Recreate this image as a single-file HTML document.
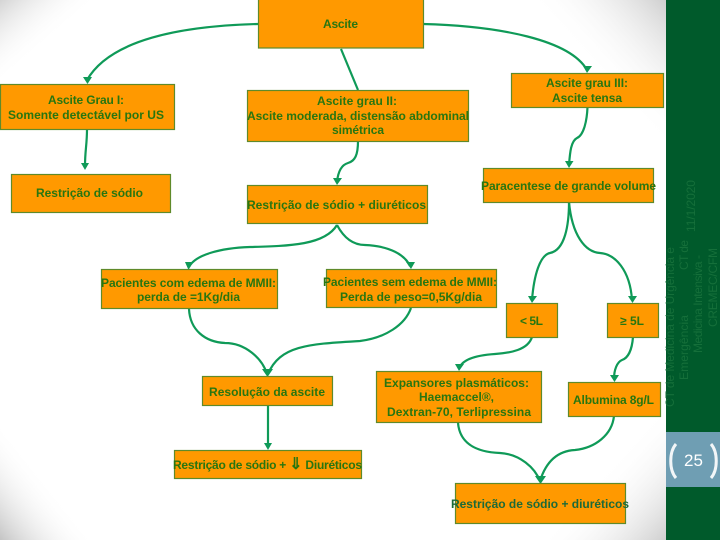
<!DOCTYPE html>
<html><head><meta charset="utf-8"><title>Ascite</title>
<style>
html,body{margin:0;padding:0;width:720px;height:540px;overflow:hidden;background:#fff}
svg{display:block}
.b{fill:#ff9900;stroke:#5f8a2a;stroke-width:1.2}
.c{fill:none;stroke:#0f9a58;stroke-width:2.2}
.h{fill:#0f9a58}
text{font-family:"Liberation Sans",sans-serif;font-size:12px;font-weight:bold;fill:#287610}
.s{font-weight:normal;fill:#156f3a}
</style></head><body>
<svg width="720" height="540" viewBox="0 0 720 540" xmlns="http://www.w3.org/2000/svg">
<defs>
<linearGradient id="tl" gradientUnits="userSpaceOnUse" x1="0" y1="0" x2="42" y2="49"><stop offset="0" stop-color="#d4d4d4"/><stop offset="1" stop-color="#fff" stop-opacity="0"/></linearGradient>
<linearGradient id="tr" gradientUnits="userSpaceOnUse" x1="666" y1="0" x2="591" y2="68"><stop offset="0" stop-color="#cfcfcf"/><stop offset="1" stop-color="#fff" stop-opacity="0"/></linearGradient>
<linearGradient id="bl" gradientUnits="userSpaceOnUse" x1="0" y1="540" x2="58" y2="494"><stop offset="0" stop-color="#c4c4c4"/><stop offset="1" stop-color="#fff" stop-opacity="0"/></linearGradient>
<linearGradient id="br" gradientUnits="userSpaceOnUse" x1="666" y1="540" x2="596" y2="477"><stop offset="0" stop-color="#cfcfcf"/><stop offset="1" stop-color="#fff" stop-opacity="0"/></linearGradient>
</defs>
<rect width="720" height="540" fill="#fff"/>
<rect width="666" height="540" fill="url(#tl)"/>
<rect width="666" height="540" fill="url(#tr)"/>
<rect width="666" height="540" fill="url(#bl)"/>
<rect width="666" height="540" fill="url(#br)"/>

<rect x="666" y="0" width="54" height="540" fill="#005a2b"/>
<rect x="666" y="432" width="54" height="55" fill="#6f9eb3"/>
<text class="s" transform="translate(674,407) rotate(-90)" textLength="160" lengthAdjust="spacing">CT de Medicina de Urgência e</text>
<text class="s" transform="translate(688,380) rotate(-90)" textLength="65" lengthAdjust="spacing">Emergência</text>
<text class="s" transform="translate(688,270) rotate(-90)" textLength="30" lengthAdjust="spacing">CT de</text>
<text class="s" transform="translate(702,353) rotate(-90)" textLength="98" lengthAdjust="spacing">Medicina Intensiva -</text>
<text class="s" transform="translate(717,327) rotate(-90)" textLength="79" lengthAdjust="spacing">CREMEC/CFM</text>
<text class="s" transform="translate(695,232) rotate(-90)" textLength="52" lengthAdjust="spacing">11/1/2020</text>
<path d="M676,444 C669,452 669,470 676,478" fill="none" stroke="#f2f6f8" stroke-width="3"/>
<path d="M711,444 C718,452 718,470 711,478" fill="none" stroke="#f2f6f8" stroke-width="3"/>
<text x="684" y="466" textLength="19" lengthAdjust="spacing" style="font-size:17px;font-weight:normal;fill:#fff">25</text>

<path class="c" d="M258,24 C180,26 110,40 87,80"/>
<path class="c" d="M341,49 L358,90"/>
<path class="c" d="M423,24 C500,26 570,40 587,70"/>
<path class="c" d="M87,129 C87,145 85,150 85,166"/>
<path class="c" d="M358,141 C358,155 355,161 348,163 C341,165 338,172 337,182"/>
<path class="c" d="M587.500,107 C587,120 584,135 577,138 C571,141 570,152 569,165"/>
<path class="c" d="M337,225 C325,245 290,246 250,247 C220,248 195,255 189,267"/>
<path class="c" d="M337,225 C345,240 355,245 365,245 C390,246 405,255 410,266"/>
<path class="c" d="M569,202 C569,225 565,250 550,253 C540,255 534,275 532,300"/>
<path class="c" d="M569,202 C572,235 585,252 600,253 C615,254 630,270 632,300"/>
<path class="c" d="M189,309 C190,330 205,342 225,343 C245,343 262,358 267,374"/>
<path class="c" d="M411,308 C405,325 385,338 360,341 C310,344 280,345 268,374"/>
<path class="c" d="M268,405 L268,447"/>
<path class="c" d="M532,337 C528,350 510,353 495,354 C480,355 462,358 459,369"/>
<path class="c" d="M633,337 C632,350 628,358 622,360 C617,362 614,370 614,379"/>
<path class="c" d="M458,423 C460,445 478,452 500,453 C520,454 535,468 540,481"/>
<path class="c" d="M614,416 C612,435 595,448 575,450 C555,451 545,465 540,481"/>

<polygon class="h" points="83,77 92,77 87.500,84"/>
<polygon class="h" points="81,163 89,163 85,170"/>
<polygon class="h" points="583,66 592,66 587,73"/>
<polygon class="h" points="333,178 342,178 337,185"/>
<polygon class="h" points="565,161 573.500,161 569,168"/>
<polygon class="h" points="185,262 193,262 188.500,270"/>
<polygon class="h" points="406,262 415,262 411,269"/>
<polygon class="h" points="528,296 537,296 532,303"/>
<polygon class="h" points="628,296 637,296 632.500,303"/>
<polygon class="h" points="262,369 273,369 267.500,377"/>
<polygon class="h" points="264,443 272,443 268,450"/>
<polygon class="h" points="455,364 464,364 459,371"/>
<polygon class="h" points="610,375 619,375 614.500,382"/>
<polygon class="h" points="535,476 546,476 540.500,484"/>

<rect class="b" x="258.500" y="-1" width="165" height="49"/>
<rect class="b" x="0.500" y="84.500" width="174" height="45"/>
<rect class="b" x="11.500" y="174.500" width="159" height="38"/>
<rect class="b" x="247.500" y="90.500" width="221" height="51"/>
<rect class="b" x="247.500" y="185.500" width="180" height="38"/>
<rect class="b" x="511.500" y="73.500" width="152" height="34"/>
<rect class="b" x="483.500" y="168.500" width="170" height="34"/>
<rect class="b" x="101.500" y="269.500" width="176" height="39"/>
<rect class="b" x="326.500" y="269.500" width="170" height="38"/>
<rect class="b" x="506.500" y="303.500" width="51" height="34"/>
<rect class="b" x="607.500" y="303.500" width="51" height="34"/>
<rect class="b" x="202.500" y="376.500" width="130" height="29"/>
<rect class="b" x="174.500" y="450.500" width="187" height="28"/>
<rect class="b" x="376.500" y="371.500" width="165" height="51"/>
<rect class="b" x="568.500" y="382.500" width="92" height="34"/>
<rect class="b" x="455.500" y="483.500" width="170" height="40"/>

<text x="323" y="28" textLength="35" lengthAdjust="spacing">Ascite</text>
<text x="48" y="104" textLength="76" lengthAdjust="spacing">Ascite Grau I:</text>
<text x="8" y="119" textLength="156" lengthAdjust="spacing">Somente detectável por US</text>
<text x="36" y="197" textLength="107" lengthAdjust="spacing">Restrição de sódio</text>
<text x="317" y="105" textLength="80" lengthAdjust="spacing">Ascite grau II:</text>
<text x="247" y="120" textLength="222" lengthAdjust="spacing">Ascite moderada, distensão abdominal</text>
<text x="332" y="134" textLength="52" lengthAdjust="spacing">simétrica</text>
<text x="247" y="209" textLength="179" lengthAdjust="spacing">Restrição de sódio + diuréticos</text>
<text x="546" y="87" textLength="82" lengthAdjust="spacing">Ascite grau III:</text>
<text x="552" y="102" textLength="70" lengthAdjust="spacing">Ascite tensa</text>
<text x="481" y="190" textLength="175" lengthAdjust="spacing">Paracentese de grande volume</text>
<text x="101" y="287" textLength="175" lengthAdjust="spacing">Pacientes com edema de MMII:</text>
<text x="137" y="301" textLength="103" lengthAdjust="spacing">perda de =1Kg/dia</text>
<text x="323" y="286" textLength="174" lengthAdjust="spacing">Pacientes sem edema de MMII:</text>
<text x="340" y="301" textLength="142" lengthAdjust="spacing">Perda de peso=0,5Kg/dia</text>
<text x="520" y="325" textLength="23" lengthAdjust="spacing">&lt; 5L</text>
<text x="620" y="325" textLength="24" lengthAdjust="spacing">≥ 5L</text>
<text x="209" y="396" textLength="116" lengthAdjust="spacing">Resolução da ascite</text>
<text x="173" y="469" textLength="189" lengthAdjust="spacing">Restrição de sódio + <tspan style="font-size:16px">⇓</tspan> Diuréticos</text>
<text x="384" y="387" textLength="145" lengthAdjust="spacing">Expansores plasmáticos:</text>
<text x="419" y="401" textLength="75" lengthAdjust="spacing">Haemaccel®,</text>
<text x="387" y="416" textLength="144" lengthAdjust="spacing">Dextran-70, Terlipressina</text>
<text x="573" y="404" textLength="81" lengthAdjust="spacing">Albumina 8g/L</text>
<text x="451" y="508" textLength="178" lengthAdjust="spacing" style="fill:#1c6a38">Restrição de sódio + diuréticos</text>
</svg>
</body></html>
